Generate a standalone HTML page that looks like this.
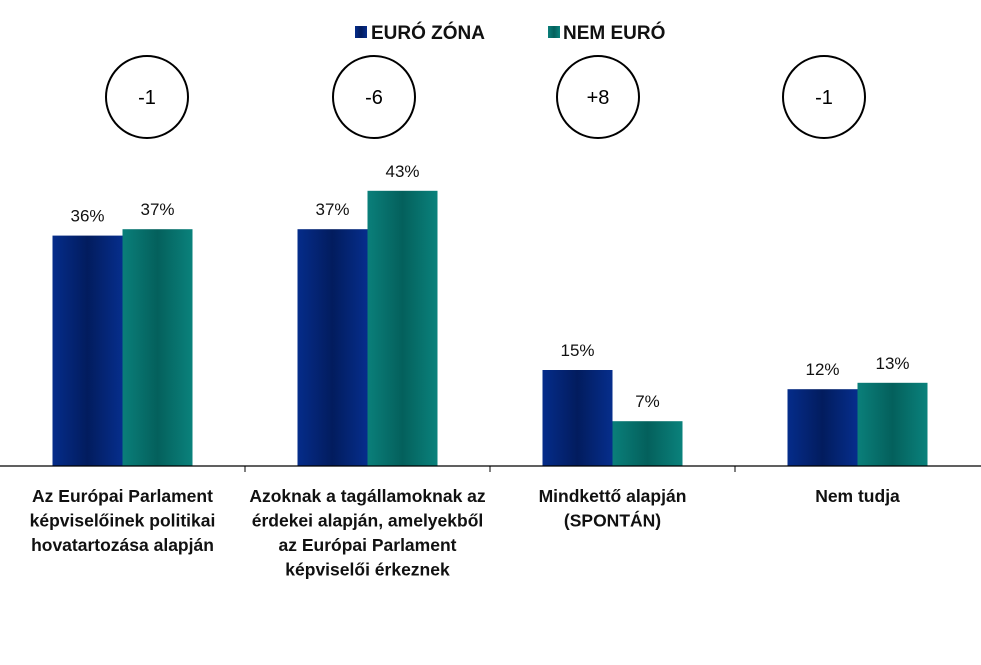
<!DOCTYPE html>
<html><head><meta charset="utf-8"><style>
body{margin:0;width:981px;height:660px;background:#fff;overflow:hidden;font-family:"Liberation Sans",sans-serif}
</style></head><body>
<svg id="c" width="981" height="660" xmlns="http://www.w3.org/2000/svg">
<defs>
<linearGradient id="gb" x1="0" x2="1" y1="0" y2="0"><stop offset="0" stop-color="#052c8a"/><stop offset="0.5" stop-color="#021c5e"/><stop offset="1" stop-color="#062e8c"/></linearGradient>
<linearGradient id="gt" x1="0" x2="1" y1="0" y2="0"><stop offset="0" stop-color="#0a7f7a"/><stop offset="0.5" stop-color="#04605c"/><stop offset="1" stop-color="#0a827c"/></linearGradient>
</defs>
<g>
<rect x="355" y="26" width="12" height="12" fill="url(#gb)"/>
<text x="371" y="39" font-size="19" font-weight="bold" fill="#111">EURÓ ZÓNA</text>
<rect x="548" y="26" width="12" height="12" fill="url(#gt)"/>
<text x="563" y="39" font-size="19" font-weight="bold" fill="#111">NEM EURÓ</text>
</g>
<g id="marks"></g>
<line x1="0" y1="466" x2="981" y2="466" stroke="#000" stroke-width="1.2"/>
</svg>
<script>
const categories=[["Az Európai Parlament","képviselőinek politikai","hovatartozása alapján"],["Azoknak a tagállamoknak az","érdekei alapján, amelyekből","az Európai Parlament","képviselői érkeznek"],["Mindkettő alapján","(SPONTÁN)"],["Nem tudja"]];
const euroZona=[36,37,15,12];
const nemEuro=[37,43,7,13];
const diffs=["-1","-6","+8","-1"];
const circleX=[147,374,598,824];
const NS="http://www.w3.org/2000/svg";
const g=document.getElementById('marks');
const base=466,scale=6.4,catW=245,barW=70;
const y=v=>base-v*scale;
function mk(t,a){const e=document.createElementNS(NS,t);for(const k in a)e.setAttribute(k,a[k]);g.appendChild(e);return e;}
categories.forEach((cat,i)=>{
  const cx=i*catW+catW/2;
  const series=[[euroZona[i],'url(#gb)',cx-barW,'euro-zona'],[nemEuro[i],'url(#gt)',cx,'nem-euro']];
  series.forEach(s=>{
    const r=mk('rect',{x:s[2],y:y(s[0]),width:barW,height:s[0]*scale,fill:s[1]});
    
    
    const t=mk('text',{x:s[2]+barW/2,y:y(s[0])-14,'font-size':17,'text-anchor':'middle',fill:'#111'});
    t.textContent=s[0]+'%';
    
    
  });
  if(i>0){const tk=mk('line',{x1:i*catW,y1:base,x2:i*catW,y2:base+6,stroke:'#000'});
    
    }
  const c=mk('circle',{cx:circleX[i],cy:97,r:41,fill:'none',stroke:'#000','stroke-width':2});
  
  
  const dt=mk('text',{x:circleX[i],y:104,'font-size':20,'text-anchor':'middle',fill:'#000'});
  dt.textContent=diffs[i];
  
  
  const lt=mk('text',{x:cx,'font-size':17.5,'font-weight':'bold','text-anchor':'middle',fill:'#111'});
  
  
  cat.forEach((ln,j)=>{const ts=document.createElementNS(NS,'tspan');ts.setAttribute('x',cx);ts.setAttribute('y',502+j*24.5);ts.textContent=ln;lt.appendChild(ts);});
});
</script>
</body></html>
